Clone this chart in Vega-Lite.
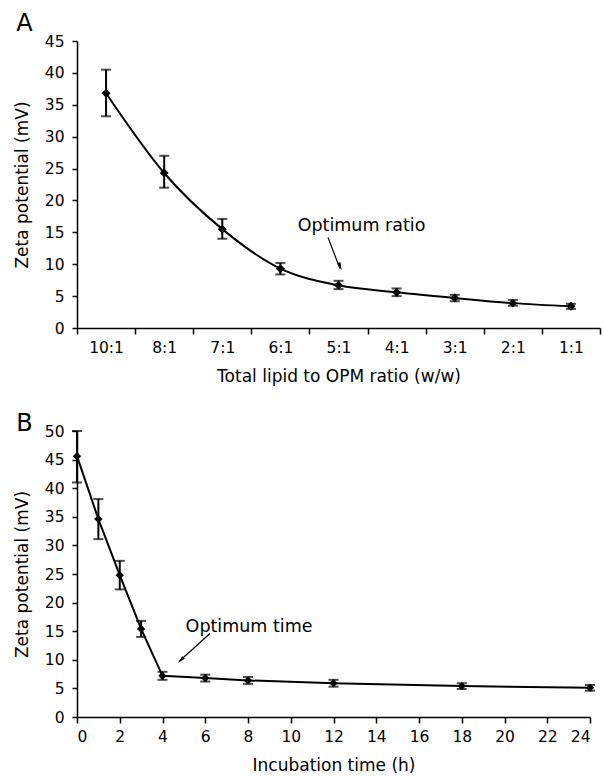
{
  "$schema": "https://vega.github.io/schema/vega-lite/v6.json",
  "padding": {"left": 13, "top": 12, "right": 2, "bottom": 0},
  "spacing": 27,
  "config": {
    "font": "DejaVu Sans",
    "view": {"stroke": null},
    "axis": {
      "grid": false,
      "labelFontSize": 15.5,
      "titleFontSize": 17,
      "titleFontWeight": "normal",
      "labelColor": "#000",
      "titleColor": "#000",
      "domainColor": "#000",
      "tickColor": "#000",
      "domainWidth": 1.5,
      "tickWidth": 1.5,
      "tickSize": 5,
      "labelPadding": 8
    },
    "axisX": {"labelPadding": 6, "tickSize": 6, "titlePadding": 13},
    "axisY": {"titlePadding": 13},
    "title": {"fontSize": 24, "fontWeight": "normal", "color": "#000", "anchor": "start", "frame": "bounds", "baseline": "alphabetic"}
  },
  "vconcat": [
    {
      "width": 523,
      "height": 287,
      "title": {"text": "A", "offset": -2, "dx": 3},
      "data": {"values": [
        {"ratio": "10:1", "zeta": 36.8, "lo": 33.2, "hi": 40.5},
        {"ratio": "8:1", "zeta": 24.3, "lo": 22.0, "hi": 27.0},
        {"ratio": "7:1", "zeta": 15.5, "lo": 14.0, "hi": 17.1},
        {"ratio": "6:1", "zeta": 9.3, "lo": 8.4, "hi": 10.2},
        {"ratio": "5:1", "zeta": 6.7, "lo": 6.1, "hi": 7.4},
        {"ratio": "4:1", "zeta": 5.6, "lo": 5.0, "hi": 6.2},
        {"ratio": "3:1", "zeta": 4.7, "lo": 4.2, "hi": 5.2},
        {"ratio": "2:1", "zeta": 3.9, "lo": 3.5, "hi": 4.4},
        {"ratio": "1:1", "zeta": 3.4, "lo": 3.0, "hi": 3.8}
      ]},
      "encoding": {
        "x": {
          "field": "ratio", "type": "ordinal",
          "sort": ["10:1", "8:1", "7:1", "6:1", "5:1", "4:1", "3:1", "2:1", "1:1"],
          "scale": {"type": "band", "paddingInner": 0, "paddingOuter": 0},
          "axis": {"title": "Total lipid to OPM ratio (w/w)", "labelAngle": 0, "tickBand": "extent"}
        }
      },
      "layer": [
        {
          "mark": {"type": "rule", "color": "#000", "strokeWidth": 2},
          "encoding": {
            "y": {"field": "lo", "type": "quantitative", "scale": {"domain": [0, 45], "nice": false},
              "axis": {"title": "Zeta potential (mV)", "values": [0, 5, 10, 15, 20, 25, 30, 35, 40, 45]}},
            "y2": {"field": "hi"}
          }
        },
        {
          "mark": {"type": "tick", "color": "#000", "size": 10, "thickness": 2, "orient": "horizontal"},
          "encoding": {"y": {"field": "lo", "type": "quantitative", "scale": {"domain": [0, 45], "nice": false},
              "axis": {"title": "Zeta potential (mV)", "values": [0, 5, 10, 15, 20, 25, 30, 35, 40, 45]}}}
        },
        {
          "mark": {"type": "tick", "color": "#000", "size": 10, "thickness": 2, "orient": "horizontal"},
          "encoding": {"y": {"field": "hi", "type": "quantitative", "scale": {"domain": [0, 45], "nice": false},
              "axis": {"title": "Zeta potential (mV)", "values": [0, 5, 10, 15, 20, 25, 30, 35, 40, 45]}}}
        },
        {
          "mark": {"type": "line", "color": "#000", "strokeWidth": 2, "interpolate": "monotone"},
          "encoding": {"y": {"field": "zeta", "type": "quantitative", "scale": {"domain": [0, 45], "nice": false},
              "axis": {"title": "Zeta potential (mV)", "values": [0, 5, 10, 15, 20, 25, 30, 35, 40, 45]}}}
        },
        {
          "mark": {"type": "point", "shape": "diamond", "filled": true, "color": "#000", "size": 80, "opacity": 1},
          "encoding": {"y": {"field": "zeta", "type": "quantitative", "scale": {"domain": [0, 45], "nice": false},
              "axis": {"title": "Zeta potential (mV)", "values": [0, 5, 10, 15, 20, 25, 30, 35, 40, 45]}}}
        },
        {
          "data": {"values": [{"ratio": "5:1", "y": 15.2, "label": "Optimum ratio"}]},
          "mark": {"type": "text", "fontSize": 17.5, "color": "#000", "align": "center", "baseline": "alphabetic", "dx": 23},
          "encoding": {"y": {"field": "y", "type": "quantitative", "scale": {"domain": [0, 45], "nice": false},
              "axis": {"title": "Zeta potential (mV)", "values": [0, 5, 10, 15, 20, 25, 30, 35, 40, 45]}}, "text": {"field": "label"}}
        },
        {
          "data": {"values": [{"ratio": "5:1", "y1": 14.2, "y2": 9.3}]},
          "mark": {"type": "rule", "color": "#000", "strokeWidth": 1.2, "xOffset": -10.5, "x2Offset": 1.5},
          "encoding": {"x2": {"field": "ratio"}, "y": {"field": "y1", "type": "quantitative", "scale": {"domain": [0, 45], "nice": false},
              "axis": {"title": "Zeta potential (mV)", "values": [0, 5, 10, 15, 20, 25, 30, 35, 40, 45]}}, "y2": {"field": "y2"}}
        },
        {
          "data": {"values": [{"ratio": "5:1", "y": 9.67}]},
          "mark": {"type": "point", "shape": "M-0.45,-1L0,1L0.45,-1Z", "filled": true, "color": "#000", "size": 64, "opacity": 1, "angle": -22.7, "xOffset": 1.7},
          "encoding": {"y": {"field": "y", "type": "quantitative", "scale": {"domain": [0, 45], "nice": false},
              "axis": {"title": "Zeta potential (mV)", "values": [0, 5, 10, 15, 20, 25, 30, 35, 40, 45]}}}
        }
      ]
    },
    {
      "width": 513,
      "height": 286,
      "title": {"text": "B", "offset": -12, "dx": 3},
      "data": {"values": [
        {"t": 0, "zeta": 45.6, "lo": 41.0, "hi": 50.0},
        {"t": 1, "zeta": 34.6, "lo": 31.1, "hi": 38.1},
        {"t": 2, "zeta": 24.8, "lo": 22.3, "hi": 27.3},
        {"t": 3, "zeta": 15.4, "lo": 14.0, "hi": 16.8},
        {"t": 4, "zeta": 7.2, "lo": 6.5, "hi": 7.9},
        {"t": 6, "zeta": 6.8, "lo": 6.2, "hi": 7.4},
        {"t": 8, "zeta": 6.4, "lo": 5.8, "hi": 7.0},
        {"t": 12, "zeta": 5.9, "lo": 5.3, "hi": 6.5},
        {"t": 18, "zeta": 5.4, "lo": 4.9, "hi": 5.9},
        {"t": 24, "zeta": 5.1, "lo": 4.6, "hi": 5.6}
      ]},
      "encoding": {
        "x": {
          "field": "t", "type": "quantitative",
          "scale": {"domain": [0, 24], "nice": false},
          "axis": {"title": "Incubation time (h)", "values": [0, 2, 4, 6, 8, 10, 12, 14, 16, 18, 20, 22, 24]}
        }
      },
      "layer": [
        {
          "mark": {"type": "rule", "color": "#000", "strokeWidth": 2},
          "encoding": {
            "y": {"field": "lo", "type": "quantitative", "scale": {"domain": [0, 50], "nice": false},
              "axis": {"title": "Zeta potential (mV)", "values": [0, 5, 10, 15, 20, 25, 30, 35, 40, 45, 50]}},
            "y2": {"field": "hi"}
          }
        },
        {
          "mark": {"type": "tick", "color": "#000", "size": 10, "thickness": 2, "orient": "horizontal"},
          "encoding": {"y": {"field": "lo", "type": "quantitative", "scale": {"domain": [0, 50], "nice": false},
              "axis": {"title": "Zeta potential (mV)", "values": [0, 5, 10, 15, 20, 25, 30, 35, 40, 45, 50]}}}
        },
        {
          "mark": {"type": "tick", "color": "#000", "size": 10, "thickness": 2, "orient": "horizontal"},
          "encoding": {"y": {"field": "hi", "type": "quantitative", "scale": {"domain": [0, 50], "nice": false},
              "axis": {"title": "Zeta potential (mV)", "values": [0, 5, 10, 15, 20, 25, 30, 35, 40, 45, 50]}}}
        },
        {
          "mark": {"type": "line", "color": "#000", "strokeWidth": 2},
          "encoding": {"y": {"field": "zeta", "type": "quantitative", "scale": {"domain": [0, 50], "nice": false},
              "axis": {"title": "Zeta potential (mV)", "values": [0, 5, 10, 15, 20, 25, 30, 35, 40, 45, 50]}}}
        },
        {
          "mark": {"type": "point", "shape": "diamond", "filled": true, "color": "#000", "size": 70, "opacity": 1},
          "encoding": {"y": {"field": "zeta", "type": "quantitative", "scale": {"domain": [0, 50], "nice": false},
              "axis": {"title": "Zeta potential (mV)", "values": [0, 5, 10, 15, 20, 25, 30, 35, 40, 45, 50]}}}
        },
        {
          "data": {"values": [{"t": 8.05, "y": 14.9, "label": "Optimum time"}]},
          "mark": {"type": "text", "fontSize": 17.5, "color": "#000", "align": "center", "baseline": "alphabetic"},
          "encoding": {"y": {"field": "y", "type": "quantitative", "scale": {"domain": [0, 50], "nice": false},
              "axis": {"title": "Zeta potential (mV)", "values": [0, 5, 10, 15, 20, 25, 30, 35, 40, 45, 50]}}, "text": {"field": "label"}}
        },
        {
          "data": {"values": [{"t": 6.22, "t2": 4.8, "y1": 14.6, "y2": 9.8}]},
          "mark": {"type": "rule", "color": "#000", "strokeWidth": 1.2},
          "encoding": {"x2": {"field": "t2"}, "y": {"field": "y1", "type": "quantitative", "scale": {"domain": [0, 50], "nice": false},
              "axis": {"title": "Zeta potential (mV)", "values": [0, 5, 10, 15, 20, 25, 30, 35, 40, 45, 50]}}, "y2": {"field": "y2"}}
        },
        {
          "data": {"values": [{"t": 4.85, "y": 9.93}]},
          "mark": {"type": "point", "shape": "M-0.45,-1L0,1L0.45,-1Z", "filled": true, "color": "#000", "size": 64, "opacity": 1, "angle": 47.8},
          "encoding": {"y": {"field": "y", "type": "quantitative", "scale": {"domain": [0, 50], "nice": false},
              "axis": {"title": "Zeta potential (mV)", "values": [0, 5, 10, 15, 20, 25, 30, 35, 40, 45, 50]}}}
        }
      ]
    }
  ]
}
